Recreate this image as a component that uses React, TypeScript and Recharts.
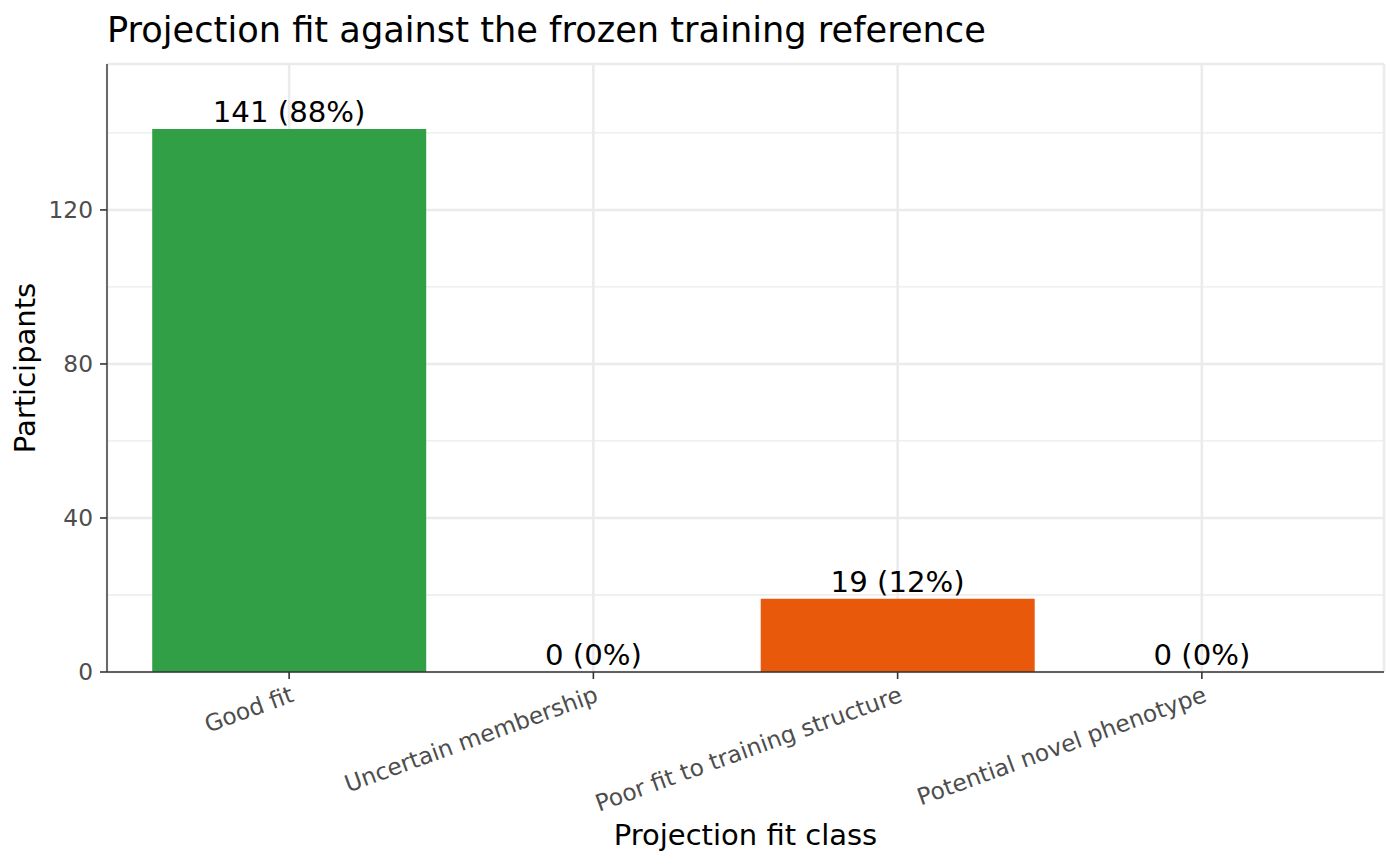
import React from "react";
import {
  ComposedChart,
  Bar,
  Line,
  XAxis,
  YAxis,
  CartesianGrid,
  Cell,
  LabelList,
  Label,
} from "recharts";

const categories = [
  "Good fit",
  "Uncertain membership",
  "Poor fit to training structure",
  "Potential novel phenotype",
];
const counts = [141, 0, 19, 0];
const barColors = ["#319F46", "#F2B705", "#E8590C", "#C62828"];
const yTicks = [0, 40, 80, 120];
const yMinorTicks = [20, 60, 100, 140];
const yDomain: [number, number] = [0, 157.9];

const total = counts.reduce((a, b) => a + b, 0);
const data = categories.map((c, i) => ({
  category: c,
  count: counts[i],
  label: `${counts[i]} (${Math.round((100 * counts[i]) / total)}%)`,
}));

const FONT = "DejaVu Sans";
const TICK_FONT = 23.3;

const XTick = (props: any) => {
  const { x, y, payload } = props;
  const ax = x + 6;
  const ay = y + 22;
  return (
    <text
      x={ax}
      y={ay}
      textAnchor="end"
      transform={`rotate(-20, ${ax}, ${ay})`}
      fill="#4D4D4D"
      fontSize={TICK_FONT}
      fontFamily={FONT}
    >
      {payload.value}
    </text>
  );
};

export default function App() {
  return (
    <div
      style={{
        position: "absolute",
        left: 0,
        top: 0,
        width: 1400,
        height: 866,
        background: "#fff",
        fontFamily: FONT,
      }}
    >
      <div
        style={{
          position: "absolute",
          left: 107,
          top: 12,
          fontSize: 35.2,
          lineHeight: "35px",
          whiteSpace: "nowrap",
          color: "#000",
          fontFamily: FONT,
        }}
      >
        Projection fit against the frozen training reference
      </div>
      <ComposedChart
        width={1400}
        height={866}
        data={data}
        margin={{ top: 64, right: 16, left: 0, bottom: 0 }}
        barCategoryGap="5%"
      >
        <CartesianGrid
          yAxisId="minor"
          horizontal={true}
          vertical={false}
          stroke="#EBEBEB"
          strokeWidth={1.3}
        />
        <CartesianGrid stroke="#EBEBEB" strokeWidth={2.6} />
        <XAxis
          dataKey="category"
          height={194}
          padding={{ left: 30, right: 30 }}
          interval={0}
          tickSize={7}
          tickMargin={0}
          tickLine={{ stroke: "#333333", strokeWidth: 1.6 }}
          axisLine={{ stroke: "#333333", strokeWidth: 1.4 }}
          tick={<XTick />}
        >
          <Label
            content={(p: any) => {
              const vb = p.viewBox;
              return (
                <text
                  x={vb.x + vb.width / 2}
                  y={845}
                  textAnchor="middle"
                  fontSize={29}
                  fill="#000"
                  fontFamily={FONT}
                >
                  Projection fit class
                </text>
              );
            }}
          />
        </XAxis>
        <XAxis
          xAxisId="top"
          orientation="top"
          dataKey="category"
          height={0}
          padding={{ left: 30, right: 30 }}
          tick={false}
          tickLine={false}
          axisLine={{ stroke: "#333333", strokeWidth: 1.4 }}
        />
        <YAxis
          width={107}
          domain={yDomain}
          ticks={yTicks}
          allowDataOverflow
          tickSize={7}
          tickMargin={7}
          tickLine={{ stroke: "#333333", strokeWidth: 1.6 }}
          axisLine={{ stroke: "#333333", strokeWidth: 1.4 }}
          tick={{ fill: "#4D4D4D", fontSize: TICK_FONT, fontFamily: FONT }}
        >
          <Label
            content={(p: any) => {
              const vb = p.viewBox;
              const cx = 35;
              const cy = vb.y + vb.height / 2;
              return (
                <text
                  x={cx}
                  y={cy}
                  transform={`rotate(-90, ${cx}, ${cy})`}
                  textAnchor="middle"
                  fontSize={29}
                  fill="#000"
                  fontFamily={FONT}
                >
                  Participants
                </text>
              );
            }}
          />
        </YAxis>
        <YAxis
          yAxisId="minor"
          hide
          domain={yDomain}
          ticks={yMinorTicks}
          allowDataOverflow
        />
        <YAxis
          yAxisId="right"
          orientation="right"
          width={0}
          domain={yDomain}
          tick={false}
          tickLine={false}
          axisLine={{ stroke: "#333333", strokeWidth: 1.4 }}
        />
        <Bar dataKey="count" isAnimationActive={false}>
          {data.map((d, i) => (
            <Cell key={d.category} fill={barColors[i]} />
          ))}
        </Bar>
        <Line
          dataKey="count"
          stroke="none"
          dot={false}
          activeDot={false}
          legendType="none"
          isAnimationActive={false}
        >
          <LabelList
            dataKey="label"
            position="top"
            offset={7}
            fill="#000"
            fontSize={29.2}
            fontFamily={FONT}
          />
        </Line>
      </ComposedChart>
    </div>
  );
}
